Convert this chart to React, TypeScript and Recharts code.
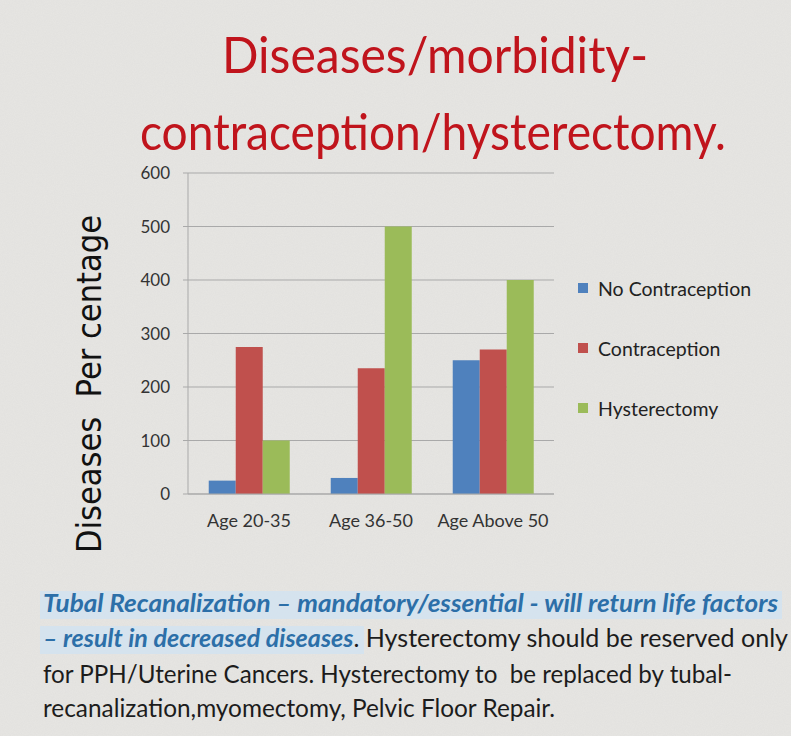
import React from 'react';
import { BarChart, Bar, XAxis, YAxis, CartesianGrid } from 'recharts';

const categories = ['Age 20-35', 'Age 36-50', 'Age Above 50'];
const noContraception = [25, 30, 250];
const contraception = [275, 235, 270];
const hysterectomy = [100, 500, 400];
const yTicks = [0, 100, 200, 300, 400, 500, 600];

const seriesInfo = [
  { key: 'noContraception', name: 'No Contraception', color: '#4F81BD' },
  { key: 'contraception', name: 'Contraception', color: '#C0504D' },
  { key: 'hysterectomy', name: 'Hysterectomy', color: '#9BBB59' },
];

const data = categories.map((c, i) => ({
  name: c,
  noContraception: noContraception[i],
  contraception: contraception[i],
  hysterectomy: hysterectomy[i],
}));

const FONT = 'Lato, "Open Sans", sans-serif';
const BLUE_TEXT = '#2C6FA8';

// legend drawn beside the plot, Excel style
const LegendBox = () => (
  <div style={{ position: 'absolute', left: 578, top: 258, fontFamily: FONT, fontSize: 19.5, color: '#222' }}>
    {seriesInfo.map(s => (
      <div key={s.key} style={{ display: 'flex', alignItems: 'center', height: 60 }}>
        <span style={{ width: 10, height: 10, background: s.color, marginRight: 10, display: 'inline-block' }} />
        {s.name}
      </div>
    ))}
  </div>
);

export default function App() {
  return (
    <div style={{ position: 'absolute', left: 0, top: 0, width: 791, height: 736, background: '#e7e6e3', overflow: 'hidden' }}>
      <svg width={791} height={736} style={{ position: 'absolute', left: 0, top: 0 }}>
        <defs>
          <filter id="grain">
            <feTurbulence type="fractalNoise" baseFrequency="0.9" numOctaves={2} seed={3} />
            <feColorMatrix type="matrix" values="0 0 0 0 0.5  0 0 0 0 0.5  0 0 0 0 0.5  0 0 0 0.35 0" />
          </filter>
        </defs>
        <rect width={791} height={736} filter="url(#grain)" opacity={0.35} />
      </svg>

      <BarChart
        width={791}
        height={560}
        data={data}
        margin={{ top: 173, right: 237, left: 128, bottom: 36 }}
        barCategoryGap="17%"
        barGap={0}
        style={{ position: 'absolute', left: 0, top: 0 }}
      >
        <CartesianGrid vertical={false} stroke="#a9a9a9" />
        <XAxis dataKey="name" height={30} tickLine={false} tickMargin={14} axisLine={{ stroke: '#a9a9a9' }} tick={{ fontFamily: FONT, fontSize: 18, fill: '#333' }} />
        <YAxis width={60} domain={[0, 600]} ticks={yTicks} tickSize={5} tickMargin={13} axisLine={{ stroke: '#a9a9a9' }} tickLine={{ stroke: '#a9a9a9' }} tick={{ fontFamily: FONT, fontSize: 17, fill: '#333' }} />
        {seriesInfo.map(s => (
          <Bar key={s.key} dataKey={s.key} name={s.name} fill={s.color} isAnimationActive={false} />
        ))}
      </BarChart>
      <LegendBox />

      <svg width={791} height={736} style={{ position: 'absolute', left: 0, top: 0, pointerEvents: 'none' }}>
        <g fontFamily={FONT} fontSize={51} fill="#C0141C" textAnchor="middle">
          <text x={435} y={73} textLength={426} lengthAdjust="spacingAndGlyphs">Diseases/morbidity-</text>
          <text x={433} y={150} textLength={586} lengthAdjust="spacingAndGlyphs">contraception/hysterectomy.</text>
        </g>
        <text
          transform="translate(101, 384) rotate(-90)"
          textAnchor="middle"
          fontFamily='"DejaVu Sans", sans-serif'
          fontSize={33}
          fill="#111"
          textLength={338}
          lengthAdjust="spacingAndGlyphs"
          style={{ whiteSpace: 'pre' }}
        >
          {'Diseases  Per centage'}
        </text>

        <rect x={40} y={591} width={742} height={28} fill="#cfe3f3" opacity={0.7} />
        <rect x={40} y={626} width={324} height={28} fill="#cfe3f3" opacity={0.7} />
        <g fontFamily={FONT} fontSize={25} fill="#1c1c1c">
          <text x={43} y={612} textLength={735} lengthAdjust="spacingAndGlyphs" fill={BLUE_TEXT} fontStyle="italic" fontWeight="bold">
            Tubal Recanalization – mandatory/essential - will return life factors
          </text>
          <text x={43} y={647} textLength={745} lengthAdjust="spacingAndGlyphs">
            <tspan fill={BLUE_TEXT} fontStyle="italic" fontWeight="bold">– result in decreased diseases</tspan>
            <tspan>. Hysterectomy should be reserved only</tspan>
          </text>
          <text x={43} y={683} textLength={689} lengthAdjust="spacingAndGlyphs" style={{ whiteSpace: 'pre' }}>
            {'for PPH/Uterine Cancers. Hysterectomy to  be replaced by tubal-'}
          </text>
          <text x={43} y={717} textLength={512} lengthAdjust="spacingAndGlyphs">
            recanalization,myomectomy, Pelvic Floor Repair.
          </text>
        </g>
      </svg>
    </div>
  );
}
